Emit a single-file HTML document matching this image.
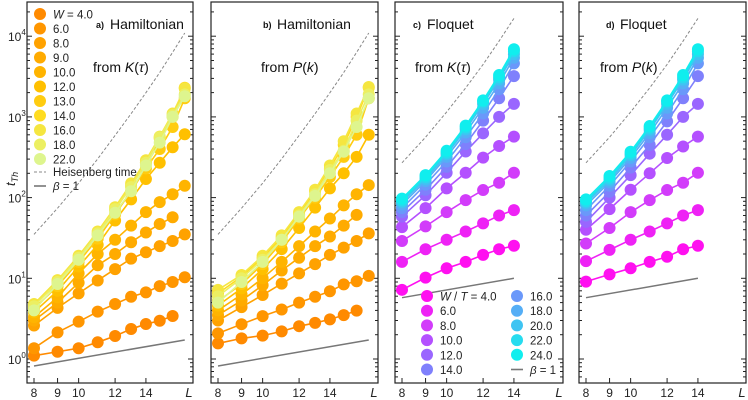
<!DOCTYPE html>
<html><head><meta charset="utf-8"><style>
body{margin:0;background:#fff;}
svg{display:block;font-family:"Liberation Sans",sans-serif;}
</style></head><body>
<svg id="chart" width="748" height="400" viewBox="0 0 748 400" xmlns="http://www.w3.org/2000/svg"></svg>
<script>
const hamL = [8,9,10,11,12,13,14,15,16,17];
const floL = [8,9,10,11,12,13,14];
const hamW = ["4.0","6.0","8.0","9.0","10.0","12.0","13.0","14.0","16.0","18.0","22.0"];
const floW = ["4.0","6.0","8.0","10.0","12.0","14.0","16.0","18.0","20.0","22.0","24.0"];
const hamColors = ["#ff8a00","#ff9600","#ffa200","#ffab00","#ffb400","#ffc000","#ffcc10","#ffdc20","#f5e640","#ecef62","#def58e"];
const floColors = ["#ff10f0","#ee22f5","#d23cfa","#b450ff","#9a66ff","#7f80fc","#6a98fa","#55aef6","#3fc4f2","#26dcef","#10eeee"];
const hamA = [
 [1.10,1.23,1.36,1.61,1.93,2.35,2.71,2.98,3.41],
 [1.36,2.14,2.9,3.86,4.8,5.9,6.7,8.0,9.0,10.3],
 [2.6,4.3,6.5,9.4,13,17.5,21,25,29,35],
 [3.0,5.0,8.8,14.5,20,28,37,47,57],
 [3.3,5.8,11.5,20,30,45,66,88,110,140],
 [3.8,7.0,14,26,52,95,170,270,420,610],
 [4.2,8.0,16,31,62,120,230,400,750,1700],
 [4.6,8.8,17.5,35,70,140,270,540,1000,2300],
 [4.8,9.5,19,38,76,150,290,570,1100,2250],
 [4.5,9.0,18,36,72,135,270,560,1050,1900],
 [4.0,8.5,17,34,65,120,250,480,1000,1800]];
const hamB = [
 [1.56,1.80,1.95,2.2,2.55,2.8,3.1,3.5,3.97],
 [2.08,2.7,3.4,4.1,5.0,5.9,6.9,8.4,9.2,10.7],
 [3.0,4.4,6.2,8.6,11.5,15,19.5,24,29,36],
 [3.5,5.3,8.2,12.5,18,25,33,45,61],
 [4.0,6.3,10,16,25,38,55,80,110,143],
 [4.6,7.5,13,23,42,75,130,200,320,600],
 [5.2,8.5,15,28,55,100,180,320,600,1700],
 [6.5,10.5,18,32,62,120,230,450,1000,2300],
 [7.2,11,19,34,66,125,250,500,1100,2350],
 [6.0,10,17,30,60,110,220,380,900,1900],
 [5.0,9.0,16,30,58,105,200,370,750,1700]];
const floC = [
 [7.2,10.2,13.3,16,19.5,22.9,25.3],
 [16,22.9,30,38,48,60,70],
 [29,44,66,93,124,153,203],
 [43,74,130,203,313,436,570],
 [58,107,203,372,626,1000,1450],
 [66,125,240,460,900,1700,3200],
 [74,145,280,560,1100,2200,4600],
 [82,160,320,640,1300,2600,5400],
 [88,170,345,700,1450,2900,6000],
 [92,180,360,740,1550,3100,6500],
 [97,190,380,780,1600,3300,6900]];
const floD = [
 [9.1,11.2,13.3,16,18.5,22.9,25.3],
 [16.3,22.5,30,38,48,60,70],
 [27,42,66,93,124,153,203],
 [40,72,125,200,310,430,570],
 [50,100,190,350,600,1000,1450],
 [60,118,235,450,880,1700,3200],
 [70,140,280,560,1100,2200,4600],
 [80,155,310,630,1300,2600,5400],
 [86,165,335,690,1450,2900,6000],
 [90,175,350,730,1550,3100,6500],
 [95,185,370,770,1600,3300,6900]];
const heisHam = [35,74,151,302,589,1096,1995,3548,6310,10965];
const heisFlo = [270,560,1150,2290,4470,8710,16600];
const betaHamL = [8,17];
const betaHam = [0.82,1.72];
const betaFloL = [8,14];
const betaFlo = [5.75,10.0];
const xTickLabels = [8,9,10,12,14];
const yDecades = [0,1,2,3,4];

const NS="http://www.w3.org/2000/svg";
const svg=document.getElementById('chart');
function el(tag,attrs,parent){const e=document.createElementNS(NS,tag);for(const k in attrs)e.setAttribute(k,attrs[k]);(parent||svg).appendChild(e);return e;}
const TOP=2,BOT=383;
function yS(v){return 359-80.7*Math.log10(v);}

const panels=[
 {id:'a',left:27,right:193,L:hamL,data:hamA,colors:hamColors,heis:heisHam,bL:betaHamL,b:betaHam,tag:'a)',title:'Hamiltonian',from:'K',tx:96,fx:93},
 {id:'b',left:211,right:378,L:hamL,data:hamB,colors:hamColors,heis:heisHam,bL:betaHamL,b:betaHam,tag:'b)',title:'Hamiltonian',from:'P',tx:263,fx:261},
 {id:'c',left:395,right:563,L:floL,data:floC,colors:floColors,heis:heisFlo,bL:betaFloL,b:betaFlo,tag:'c)',title:'Floquet',from:'K',tx:413,fx:415},
 {id:'d',left:579,right:746,L:floL,data:floD,colors:floColors,heis:heisFlo,bL:betaFloL,b:betaFlo,tag:'d)',title:'Floquet',from:'P',tx:606,fx:600}];

panels.forEach(p=>{
 const g=el('g',{});
 
 
 const xS=L=>p.left+7+200*Math.log(L/8);
 const fr=el('rect',{x:p.left,y:TOP,width:p.right-p.left,height:BOT-TOP,fill:'none',stroke:'#222','stroke-width':1.2},g);
 
 
 for(let d=-1;d<=4;d++){for(let k=1;k<=9;k++){const y=yS(k*Math.pow(10,d));if(y<TOP+1||y>BOT-1)continue;const len=k===1?5:3;
  el('line',{x1:p.left,x2:p.left+len,y1:y,y2:y,stroke:'#222','stroke-width':1},g);
  el('line',{x1:p.right,x2:p.right-len,y1:y,y2:y,stroke:'#222','stroke-width':1},g);}}
 xTickLabels.forEach(L=>{const x=xS(L);el('line',{x1:x,x2:x,y1:BOT,y2:BOT-5,stroke:'#222','stroke-width':1},g);
  const t=el('text',{x:x,y:397,'font-size':12,'text-anchor':'middle',fill:'#222'},g);t.textContent=L;
  
  });
 const xl=el('text',{x:p.right-4,y:397,'font-size':13,'font-style':'italic','text-anchor':'middle',fill:'#222'},g);xl.textContent='L';
 
 
 const hp=el('polyline',{points:p.heis.map((v,i)=>xS(p.L[i])+','+yS(v)).join(' '),fill:'none',stroke:'#888','stroke-width':1,'stroke-dasharray':'3,2'},g);
 
 
 const bp=el('line',{x1:xS(p.bL[0]),y1:yS(p.b[0]),x2:xS(p.bL[1]),y2:yS(p.b[1]),stroke:'#777','stroke-width':1.5},g);
 
 
 p.data.forEach((s,si)=>{const sg=el('g',{},g);
  
  
  el('polyline',{points:s.map((v,i)=>xS(p.L[i])+','+yS(v)).join(' '),fill:'none',stroke:p.colors[si],'stroke-width':1.6},sg);
  s.forEach((v,i)=>{const c=el('circle',{cx:xS(p.L[i]),cy:yS(v),r:6,fill:p.colors[si]},sg);
   
   });});
 const t1=el('text',{x:p.tx,y:28,'font-size':9,'font-weight':'bold',fill:'#111'},g);t1.textContent=p.tag;
 
 
 const t2=el('text',{x:p.tx+14,y:29,'font-size':14,fill:'#111'},g);t2.textContent=p.title;
 
 
 const t3=el('text',{x:p.fx,y:72,'font-size':14,fill:'#111'},g);
 
 
 t3.innerHTML='from <tspan font-style="italic">'+p.from+'</tspan>('+(p.from==='K'?'<tspan font-style="italic">τ</tspan>':'<tspan font-style="italic">k</tspan>')+')';
});
yDecades.forEach(d=>{const t=el('text',{x:8,y:yS(Math.pow(10,d))+5,'font-size':12,fill:'#222'});
 
 
 t.innerHTML='10<tspan font-size="8" dy="-6">'+d+'</tspan>';});
const yt=el('text',{x:0,y:0,'font-size':13,'font-style':'italic',fill:'#222',transform:'translate(15,186) rotate(-90)'});


yt.innerHTML='t<tspan font-size="9" dy="3">Th</tspan>';
const lgA=el('g',{});


hamW.forEach((w,i)=>{const y=14+i*14.5;
 const e=el('g',{},lgA);
 
 
 el('circle',{cx:40,cy:y,r:6,fill:hamColors[i]},e);
 const t=el('text',{x:53,y:y+4.5,'font-size':11.5,fill:'#222'},e);
 t.innerHTML=i===0?'<tspan font-style="italic">W</tspan> = '+w:w;});
el('line',{x1:34,x2:46,y1:172,y2:172,stroke:'#888','stroke-dasharray':'3,2'},lgA);
let tt=el('text',{x:53,y:176,'font-size':11.5,fill:'#222'},lgA);tt.textContent='Heisenberg time';
el('line',{x1:34,x2:46,y1:186,y2:186,stroke:'#777','stroke-width':1.6},lgA);
tt=el('text',{x:53,y:190,'font-size':11.5,fill:'#222'},lgA);tt.innerHTML='<tspan font-style="italic">β</tspan> = 1';
const lgC=el('g',{});


floW.forEach((w,i)=>{const col=i<6?0:1;const row=i<6?i:i-6;const y=296+row*14.7;const mx=col?517:427;
 const e=el('g',{},lgC);
 
 
 el('circle',{cx:mx,cy:y,r:6,fill:floColors[i]},e);
 const t=el('text',{x:mx+13,y:y+4.5,'font-size':11.5,fill:'#222'},e);
 t.innerHTML=i===0?'<tspan font-style="italic">W</tspan> / <tspan font-style="italic">T</tspan> = '+w:w;});
el('line',{x1:511,x2:523,y1:369.5,y2:369.5,stroke:'#777','stroke-width':1.6},lgC);
tt=el('text',{x:530,y:374,'font-size':11.5,fill:'#222'},lgC);tt.innerHTML='<tspan font-style="italic">β</tspan> = 1';
</script>
</body></html>
